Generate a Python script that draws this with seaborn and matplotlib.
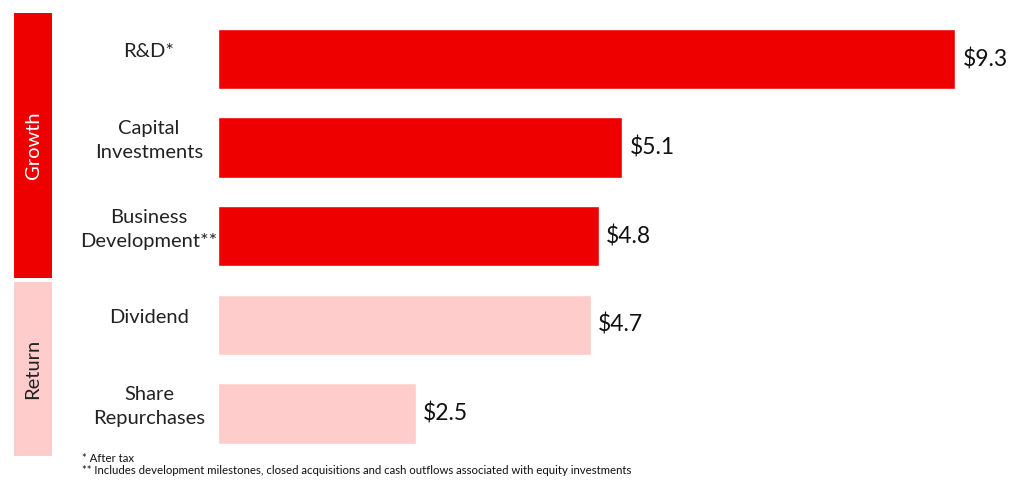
import matplotlib
matplotlib.use("Agg")
import matplotlib.pyplot as plt
import matplotlib.transforms as mtransforms
from matplotlib.patches import Rectangle
import seaborn as sns
import pandas as pd

categories = ["R&D*", "Capital\nInvestments", "Business\nDevelopment**", "Dividend", "Share\nRepurchases"]
values = [9.3, 5.1, 4.8, 4.7, 2.5]
groups = ["Growth", "Growth", "Growth", "Return", "Return"]
value_labels = ["$9.3", "$5.1", "$4.8", "$4.7", "$2.5"]
footnotes = ["* After tax",
             "** Includes development milestones, closed acquisitions and cash outflows associated with equity investments"]

RED = "#EE0000"
PINK = "#FFCCCC"

sns.set_theme(style="white")
plt.rcParams['font.family'] = ['Lato', 'DejaVu Sans']

df = pd.DataFrame({"category": categories, "value": values, "group": groups})

fig = plt.figure(figsize=(10.17, 4.91), dpi=100)
W, H = 1017, 491
ax = fig.add_axes([218 / W, 1 - 457.8 / H, (1010 - 218) / W, (457.8 - 14.7) / H])

sns.barplot(data=df, x="value", y="category", hue="group", palette={"Growth": RED, "Return": PINK},
            dodge=False, width=0.68, legend=False, ax=ax, saturation=1)

ax.set_xlim(0, (1010 - 218) / 79.3)
ax.set_ylim(4.5, -0.5)
for s in ax.spines.values():
    s.set_visible(False)
ax.set_xticks([])
ax.set_yticks([])
ax.set_xlabel("")
ax.set_ylabel("")

trans = mtransforms.blended_transform_factory(fig.transFigure, ax.transData)
for i, (cat, v, lab) in enumerate(zip(categories, values, value_labels)):
    ax.text(149 / W, i - 0.08, cat, transform=trans, ha="center", va="center",
            multialignment="center", fontsize=14.5, color="#222222", linespacing=1.5)
    ax.annotate(lab, (v, i), xytext=(5, 0), textcoords="offset points",
                ha="left", va="center", fontsize=16.5, color="#111111")

# group bands
bands = [("Growth", -0.52, 2.47, RED, "white"), ("Return", 2.52, 4.48, PINK, "#222222")]
for name, y0, y1, col, tcol in bands:
    r = Rectangle((14 / W, y0), 38 / W, y1 - y0, transform=trans, color=col, clip_on=False, lw=0)
    ax.add_patch(r)
    ax.text(33 / W, (y0 + y1) / 2, name, transform=trans, rotation=90, ha="center", va="center",
            fontsize=14.5, color=tcol)

fig.text(82 / W, 1 - 458 / H, footnotes[0], fontsize=8.2, va="center", ha="left", color="#111111")
fig.text(82 / W, 1 - 471 / H, footnotes[1], fontsize=8.2, va="center", ha="left", color="#111111")

fig.savefig("out.png", dpi=100, facecolor="white")
